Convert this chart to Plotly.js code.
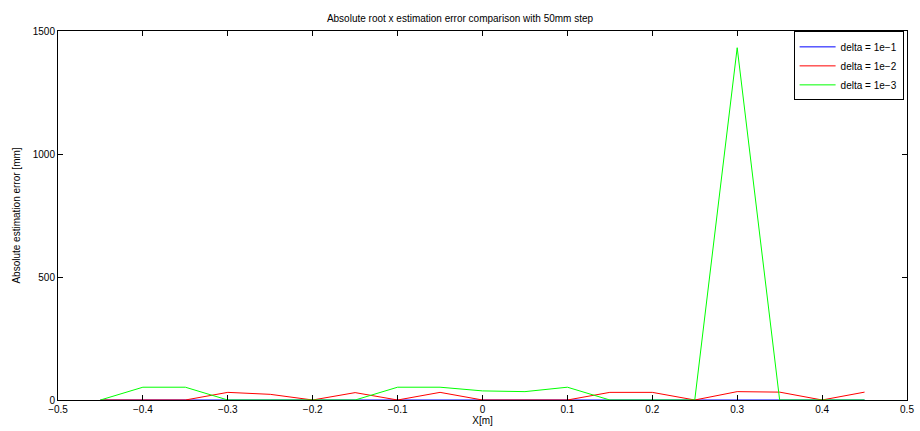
<!DOCTYPE html>
<html>
<head>
<meta charset="utf-8">
<script src="https://cdn.plot.ly/plotly-3.0.1.min.js"></script>
<style>html,body{margin:0;padding:0;background:#fff;}</style>
</head>
<body>
<div id="chart" style="width:920px;height:431px;"></div>
<script>
var xValues = [-0.45,-0.4,-0.35,-0.3,-0.25,-0.2,-0.15,-0.1,-0.05,0,0.05,0.1,0.15,0.2,0.25,0.3,0.35,0.4,0.45];
var delta1e1 = [0,0,0,0,0,0,0,0,0,0,0,0,0,0,0,0,0,0,0];
var delta1e2 = [0,0,0,31,23,0,30,0,31,0,0,0,31,31,0,34,32,0,32];
var delta1e3 = [0,52,52,0,0,0,0,52,52,37,34,52,0,0,0,1432,0,0,0];
var seriesNames = ["delta = 1e\u22121","delta = 1e\u22122","delta = 1e\u22123"];
var xTicks = [-0.5,-0.4,-0.3,-0.2,-0.1,0,0.1,0.2,0.3,0.4,0.5];
var xTickLabels = ["\u22120.5","\u22120.4","\u22120.3","\u22120.2","\u22120.1","0","0.1","0.2","0.3","0.4","0.5"];
var yTicks = [0,500,1000,1500];

var colors = ["#0000ff","#ff0000","#00ff00"];
var ys = [delta1e1, delta1e2, delta1e3];
var traces = ys.map(function(y,i){
  return {x:xValues, y:y, type:"scatter", mode:"lines", name:seriesNames[i],
    line:{color:colors[i], width:1}};
});

var font = {family:"Liberation Sans, Arial, sans-serif", size:10, color:"#000"};
var layout = {
  width:920, height:431,
  margin:{l:58, r:13, t:31, b:31},
  paper_bgcolor:"#fff", plot_bgcolor:"#fff",
  font:font,
  title:{text:"Absolute root x estimation error comparison with 50mm step", font:{family:font.family,size:10,color:"#000"}, x:0.5, xanchor:"center", y:0.958, yanchor:"middle"},
  xaxis:{range:[-0.5,0.5], tickvals:xTicks, ticktext:xTickLabels, ticks:"inside", ticklen:5, tickcolor:"#000",
    showline:true, linecolor:"#000", linewidth:1, mirror:"ticks", showgrid:false, zeroline:false,
    title:{text:"X[m]", font:{family:font.family,size:10,color:"#000"}, standoff:2}, tickfont:font},
  yaxis:{range:[0,1500], tickvals:yTicks, ticks:"inside", ticklen:5, tickcolor:"#000",
    showline:true, linecolor:"#000", linewidth:1, mirror:"ticks", showgrid:false, zeroline:false,
    title:{text:"Absolute estimation error [mm]", font:{family:font.family,size:10,color:"#000"}, standoff:10}, tickfont:font},
  legend:{x:0.996, y:0.999, xanchor:"right", yanchor:"top", bgcolor:"#fff", bordercolor:"#000", borderwidth:1,
    font:{family:font.family,size:10,color:"#000"}, tracegroupgap:0, itemwidth:36},
  showlegend:true
};
Plotly.newPlot("chart", traces, layout, {displayModeBar:false, staticPlot:true});
</script>
</body>
</html>
